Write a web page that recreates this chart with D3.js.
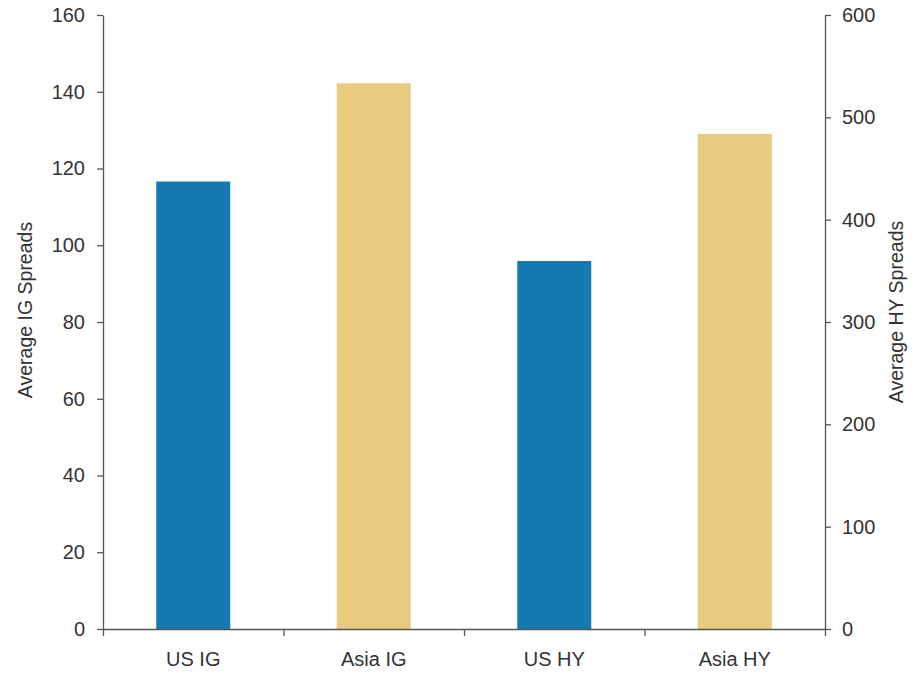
<!DOCTYPE html>
<html>
<head>
<meta charset="utf-8">
<script src="https://cdn.jsdelivr.net/npm/d3@7"></script>
<style>
  body { margin: 0; background: #fff; }
  .canvas text { font-family: "Liberation Sans", Arial, sans-serif; fill: #333; }
</style>
</head>
<body>
<div class="canvas"></div>
<script>
// chart data
const categories = ['US IG', 'Asia IG', 'US HY', 'Asia HY'];
const spreads = [116.6, 142.2, 359.6, 483.8];
const grades = ['IG', 'IG', 'HY', 'HY'];      // IG -> left axis, HY -> right axis
const regions = ['US', 'Asia', 'US', 'Asia']; // bar colour
const leftTicks = [0, 20, 40, 60, 80, 100, 120, 140, 160];
const rightTicks = [0, 100, 200, 300, 400, 500, 600];

const width = 918, height = 673;
const margin = { top: 15, right: 93, bottom: 44, left: 103 };
const graphWidth = width - margin.left - margin.right;
const graphHeight = height - margin.top - margin.bottom;

const svg = d3.select('.canvas')
    .append('svg')
    .attr('width', width)
    .attr('height', height);

const graph = svg.append('g')
    .attr('transform', `translate(${margin.left}, ${margin.top})`);

const data = categories.map((c, i) => ({
    name: c, value: spreads[i], grade: grades[i], region: regions[i]
}));

const yLeft = d3.scaleLinear().domain([0, 160]).range([graphHeight, 0]);
const yRight = d3.scaleLinear().domain([0, 600]).range([graphHeight, 0]);
const x = d3.scaleBand()
    .domain(categories)
    .range([0, graphWidth])
    .paddingInner(0.59)
    .paddingOuter(0.295);

const colour = { US: '#157ab2', Asia: '#e8cb7f' };
const yFor = d => d.grade === 'IG' ? yLeft : yRight;

// bars
graph.selectAll('rect')
    .data(data)
    .enter()
    .append('rect')
    .attr('x', d => x(d.name))
    .attr('width', x.bandwidth())
    .attr('y', d => yFor(d)(d.value))
    .attr('height', d => graphHeight - yFor(d)(d.value))
    .attr('fill', d => colour[d.region]);

// axes
const axisColour = '#555';
const styleAxis = g => {
    g.selectAll('path, line').attr('stroke', axisColour).attr('stroke-width', 1.3);
    g.selectAll('text')
        .attr('font-size', 20)
        .attr('fill', '#333')
        .attr('font-family', '"Liberation Sans", Arial, sans-serif');
};

const leftAxis = graph.append('g')
    .call(d3.axisLeft(yLeft).tickValues(leftTicks).tickSize(6).tickSizeOuter(0).tickPadding(12))
    .call(styleAxis);

const rightAxis = graph.append('g')
    .attr('transform', `translate(${graphWidth}, 0)`)
    .call(d3.axisRight(yRight).tickValues(rightTicks).tickSize(6).tickSizeOuter(0).tickPadding(11))
    .call(styleAxis);

// bottom axis: ticks sit on the category boundaries
const xEdges = d3.scaleLinear().domain([0, categories.length]).range([0, graphWidth]);
graph.append('g')
    .attr('transform', `translate(0, ${graphHeight})`)
    .call(d3.axisBottom(xEdges).tickValues(d3.range(categories.length + 1)).tickFormat('').tickSize(7).tickSizeOuter(0))
    .call(styleAxis);

graph.selectAll('.cat-label')
    .data(categories)
    .enter()
    .append('text')
    .attr('class', 'cat-label')
    .attr('x', d => x(d) + x.bandwidth() / 2)
    .attr('y', graphHeight + 37)
    .attr('text-anchor', 'middle')
    .attr('font-size', 20)
    .text(d => d);

// axis titles
svg.append('text')
    .attr('transform', `translate(32, 310) rotate(-90)`)
    .attr('text-anchor', 'middle')
    .attr('font-size', 19.5)
    .text('Average IG Spreads');

svg.append('text')
    .attr('transform', `translate(903, 312) rotate(-90)`)
    .attr('text-anchor', 'middle')
    .attr('font-size', 19.5)
    .text('Average HY Spreads');
</script>
</body>
</html>
